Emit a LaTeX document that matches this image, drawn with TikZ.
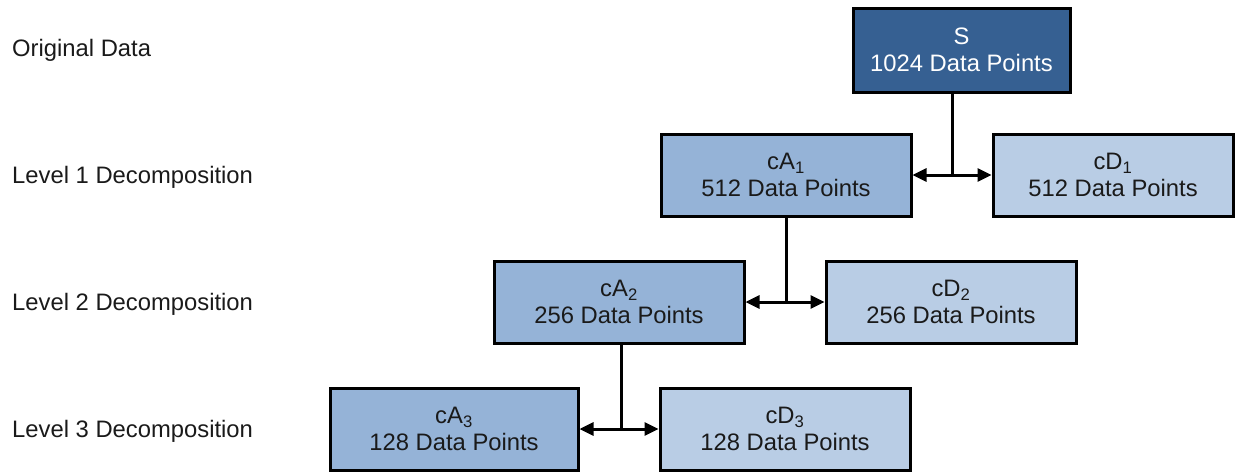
\documentclass[tikz,border=0pt]{standalone}
\usepackage{fontspec}
\setmainfont{Liberation Sans}
\usetikzlibrary{arrows.meta}
\definecolor{topblue}{HTML}{366092}
\definecolor{approxblue}{HTML}{95B3D7}
\definecolor{detailblue}{HTML}{B9CDE5}
\definecolor{inktext}{HTML}{1A1A1A}
\begin{document}
\begin{tikzpicture}[x=1pt,y=-1pt,
  every node/.style={font=\fontsize{23.8}{27.5}\selectfont},
  block/.style={draw=black, line width=3pt, align=center, inner sep=0pt,
    minimum height=82pt, text=inktext},
  topblock/.style={block, fill=topblue, text=white, minimum width=217pt, minimum height=84pt},
  approx/.style={block, fill=approxblue, minimum width=250pt},
  detail/.style={block, fill=detailblue, minimum width=250pt},
  levellabel/.style={anchor=west, inner sep=0pt, text=inktext},
  link/.style={line width=3pt},
  split/.style={link, {Triangle[length=14pt,width=13pt]}-{Triangle[length=14pt,width=13pt]}}
]
\useasboundingbox (0,0) rectangle (1239,472);

% level captions
\node[levellabel] (l0) at (12,50) {Original Data};
\node[levellabel] (l1) at (12,177) {Level 1 Decomposition};
\node[levellabel] (l2) at (12,304) {Level 2 Decomposition};
\node[levellabel] (l3) at (12,431) {Level 3 Decomposition};

% decomposition tree
\node[topblock] (s) at (961.5,50) {S\\1024 Data Points};
\node[approx] (ca1) at (786,175) {cA\textsubscript{1}\\512 Data Points};
\node[detail, minimum width=240pt] (cd1) at (1113,175) {cD\textsubscript{1}\\512 Data Points};
\node[approx] (ca2) at (619,302) {cA\textsubscript{2}\\256 Data Points};
\node[detail] (cd2) at (951,302) {cD\textsubscript{2}\\256 Data Points};
\node[approx, minimum width=248pt] (ca3) at (454,429) {cA\textsubscript{3}\\128 Data Points};
\node[detail] (cd3) at (785,429) {cD\textsubscript{3}\\128 Data Points};

% junctions where each signal splits
\coordinate (j1) at (952,175);
\coordinate (j2) at (786,302);
\coordinate (j3) at (621,429);

\draw[link] (j1 |- s.south) -- (j1);
\draw[split] (ca1.east) -- (cd1.west);
\draw[link] (j2 |- ca1.south) -- (j2);
\draw[split] (ca2.east) -- (cd2.west);
\draw[link] (j3 |- ca2.south) -- (j3);
\draw[split] (ca3.east) -- (cd3.west);
\end{tikzpicture}
\end{document}
